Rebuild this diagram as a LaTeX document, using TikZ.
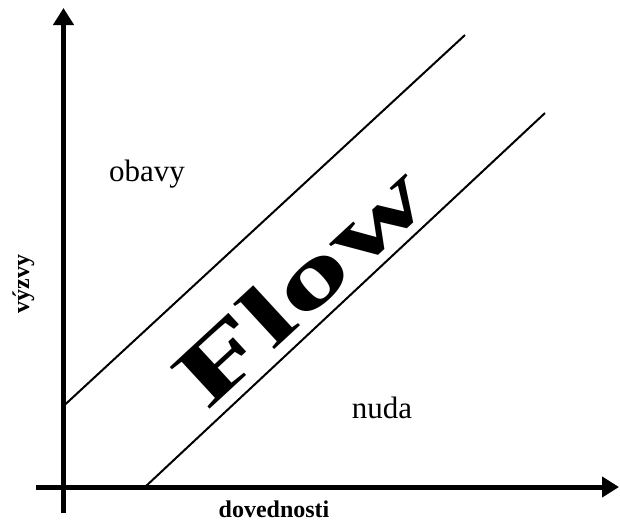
\documentclass[tikz,border=0pt]{standalone}
\usepackage{fontspec}
\setmainfont{Liberation Serif}
\usetikzlibrary{arrows.meta}
\begin{document}
\begin{tikzpicture}[x=1pt,y=-1pt,
  axis/.style={line width=5pt,-{Triangle[length=17pt,width=20pt]}},
  band/.style={line width=2pt},
  lbl/.style={inner sep=0pt,anchor=base,font=\fontsize{31}{31}\selectfont},
  axlbl/.style={inner sep=0pt,anchor=base,font=\fontsize{24}{24}\selectfont\bfseries}]
\useasboundingbox (0,0) rectangle (620,525);
\coordinate (ybot) at (63.5,513);
\coordinate (ytop) at (63.5,8);
\coordinate (xl) at (36,487);
\coordinate (xr) at (619,487);
\coordinate (u1) at (63.5,406);
\coordinate (u2) at (465,35);
\coordinate (l1) at (145,487);
\coordinate (l2) at (545,113);
\draw[axis] (ybot) -- (ytop);
\draw[axis] (xl) -- (xr);
\draw[band] (u1) -- (u2);
\draw[band] (l1) -- (l2);
\node[lbl] (obavy) at (147,181) {obavy};
\node[lbl] (nuda) at (382,418) {nuda};
\node[axlbl] (dov) at (274,517) {dovednosti};
\node[axlbl,rotate=90] (vyz) at (29,284) {výzvy};
\node[inner sep=0pt,rotate=42.7] (flow) at (300,285)
  {\scalebox{1.66}[1]{\fontsize{88}{88}\selectfont\bfseries Flow}};
\end{tikzpicture}
\end{document}
